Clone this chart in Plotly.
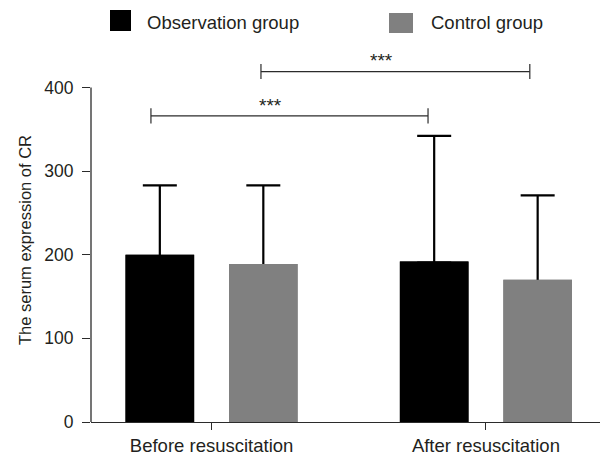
import plotly.graph_objects as go

# ---- data ----
categories = ["Before resuscitation", "After resuscitation"]
observation_values = [200, 192]
observation_sd = [83, 150]
control_values = [189, 170]
control_sd = [94, 101]
series_names = ["Observation group", "Control group"]
y_tick_values = [0, 100, 200, 300, 400]
significance_label = "***"

# ---- layout constants ----
OFF = 8  # the page body has an 8px margin
W, H = 608 - OFF, 457 - OFF
ML, MR, MT, MB = 83, 0, 46, 35
PW, PH = W - ML - MR, H - MT - MB
Y_MAX = 440
AXIS_COLOR = "#2b2b2b"
TEXT_COLOR = "#231f20"
FONT = "Liberation Sans, Arial, Helvetica, sans-serif"

OBS_COLOR = "#000000"
CTL_COLOR = "#808080"


def err(arr):
    return dict(type="data", array=arr, arrayminus=[1.5] * len(arr),
                symmetric=False, color="#000000", thickness=2.2, width=17)


fig = go.Figure()
# bars carrying the (upper) error bars
fig.add_trace(go.Bar(x=categories, y=observation_values, name=series_names[0],
                     offsetgroup="obs", marker=dict(color=OBS_COLOR, line=dict(width=0)),
                     error_y=err(observation_sd)))
fig.add_trace(go.Bar(x=categories, y=control_values, name=series_names[1],
                     offsetgroup="ctl", marker=dict(color=CTL_COLOR, line=dict(width=0)),
                     error_y=err(control_sd)))
# same bars drawn again on top, hiding the lower end of the error bars
fig.add_trace(go.Bar(x=categories, y=observation_values, name=series_names[0],
                     offsetgroup="obs", marker=dict(color=OBS_COLOR, line=dict(width=0))))
fig.add_trace(go.Bar(x=categories, y=control_values, name=series_names[1],
                     offsetgroup="ctl", marker=dict(color=CTL_COLOR, line=dict(width=0))))


def px_x(p):
    return (p - OFF - ML) / PW


def px_y(p):
    return (H - MB - (p - OFF)) / PH


shapes = []
annotations = []

# y axis line (only up to 400)
shapes.append(dict(type="line", xref="paper", yref="y", x0=0, x1=0,
                   y0=0, y1=max(y_tick_values), line=dict(color=AXIS_COLOR, width=1.3)))

# significance brackets: (x0, x1, y, star_x, star_y)
brackets = [(-0.221, 0.789, 366, 0.213, 378), (0.180, 1.160, 419, 0.621, 432)]
for x0, x1, yb, sx, sy in brackets:
    shapes.append(dict(type="line", xref="x", yref="y", x0=x0, x1=x1, y0=yb, y1=yb,
                       line=dict(color=AXIS_COLOR, width=1.2)))
    for xx in (x0, x1):
        shapes.append(dict(type="line", xref="x", yref="y", x0=xx, x1=xx,
                           y0=yb - 9, y1=yb + 9, line=dict(color=AXIS_COLOR, width=1.2)))
    annotations.append(dict(x=sx, y=sy, xref="x", yref="y", text=significance_label,
                            showarrow=False, xanchor="center", yanchor="middle",
                            font=dict(size=19, color=TEXT_COLOR, family=FONT)))

# manual legend
legend_items = [
    (series_names[0], OBS_COLOR, 110, 131, 10, 31, 145),
    (series_names[1], CTL_COLOR, 389, 413, 13, 33, 429),
]
for name, col, lx0, lx1, ly0, ly1, tx in legend_items:
    shapes.append(dict(type="rect", xref="paper", yref="paper",
                       x0=px_x(lx0), x1=px_x(lx1), y0=px_y(ly1), y1=px_y(ly0),
                       fillcolor=col, line=dict(width=0)))
    annotations.append(dict(x=px_x(tx), y=px_y(23), xref="paper", yref="paper",
                            text=name, showarrow=False, xanchor="left", yanchor="middle",
                            font=dict(size=18.5, color=TEXT_COLOR, family=FONT)))

# y-axis title
annotations.append(dict(x=px_x(25), y=px_y(240), xref="paper", yref="paper",
                        text="The serum expression of CR", textangle=-90, showarrow=False,
                        xanchor="center", yanchor="middle",
                        font=dict(size=16.5, color=TEXT_COLOR, family=FONT)))

fig.update_layout(
    width=W, height=H,
    margin=dict(l=ML, r=MR, t=MT, b=MB, pad=0, autoexpand=False),
    paper_bgcolor="white", plot_bgcolor="white",
    showlegend=False,
    barmode="group", bargap=0.2456, bargroupgap=0.337,
    font=dict(family=FONT, color=TEXT_COLOR),
    shapes=shapes, annotations=annotations,
    xaxis=dict(
        type="category", range=[-0.4395, 1.445],
        showline=True, linecolor=AXIS_COLOR, linewidth=1.3,
        ticks="outside", ticklen=7, tickwidth=1.3, tickcolor=AXIS_COLOR,
        tickfont=dict(size=18.5, color=TEXT_COLOR, family=FONT),
        showgrid=False, zeroline=False, fixedrange=True, automargin=False,
    ),
    yaxis=dict(
        range=[0, Y_MAX], tickvals=y_tick_values,
        showline=False, ticks="outside", ticklen=8, tickwidth=1.3, tickcolor=AXIS_COLOR,
        tickfont=dict(size=17.5, color=TEXT_COLOR, family=FONT),
        ticklabelstandoff=5,
        showgrid=False, zeroline=False, fixedrange=True, automargin=False,
    ),
)

fig.write_html("out.html")
